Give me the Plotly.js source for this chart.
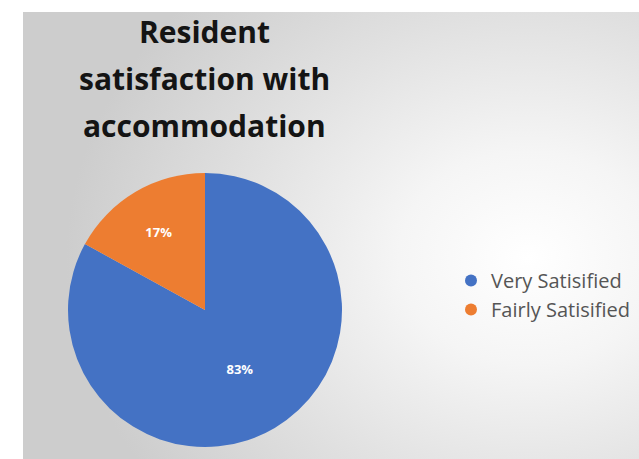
<!DOCTYPE html>
<html>
<head>
<meta charset="utf-8">
<script src="https://cdn.plot.ly/plotly-3.0.1.min.js"></script>
<style>
  html, body { margin: 0; padding: 0; background: #ffffff; width: 639px; height: 459px; overflow: hidden; }
  #bg { position: absolute; left: 23px; top: 12px; width: 616px; height: 447px;
        background: radial-gradient(ellipse 75% 85% at 82% 55%, #ffffff 0%, #f5f5f5 28%, #e0e0e0 65%, #cdcdcd 100%); }
  #chart { position: absolute; left: 0; top: 0; width: 639px; height: 459px; }
</style>
</head>
<body>
<div id="bg"></div>
<div id="chart"></div>
<script>
const categories = ["Very Satisified", "Fairly Satisified"];
const values = [83, 17];
const colors = ["#4472C4", "#ED7D31"];
const titleLines = ["Resident", "satisfaction with", "accommodation"];

const W = 639, H = 459;

const pie = {
  type: "pie",
  labels: categories,
  values: values,
  sort: false,
  direction: "clockwise",
  rotation: 0,
  marker: { colors: colors, line: { width: 0 } },
  texttemplate: "<b>%{percent:.0%}</b>",
  textposition: "inside",
  insidetextorientation: "horizontal",
  textfont: { family: "'Open Sans', sans-serif", size: 13, color: "#ffffff" },
  showlegend: false,
  hoverinfo: "label+percent",
  domain: { x: [68 / W, 342 / W], y: [1 - 447 / H, 1 - 173 / H] }
};

const legendTraces = categories.map((c, i) => ({
  type: "scatter",
  mode: "markers",
  x: [null], y: [null],
  name: c,
  marker: { color: colors[i], size: 12, symbol: "circle" },
  showlegend: true,
  hoverinfo: "skip"
}));

const titleYs = [31, 78, 125];
const annotations = titleLines.map((t, i) => ({
  text: "<b>" + t + "</b>",
  xref: "paper", yref: "paper",
  x: 204 / W, y: 1 - titleYs[i] / H,
  xanchor: "center", yanchor: "middle",
  showarrow: false,
  font: { family: "'Open Sans', sans-serif", size: 30, color: "#141414" }
}));

const layout = {
  width: W, height: H,
  margin: { l: 0, r: 0, t: 0, b: 0 },
  paper_bgcolor: "rgba(0,0,0,0)",
  plot_bgcolor: "rgba(0,0,0,0)",
  xaxis: { visible: false }, yaxis: { visible: false },
  showlegend: true,
  legend: {
    x: 451 / W, xanchor: "left",
    y: 1 - 295 / H, yanchor: "middle",
    bgcolor: "rgba(0,0,0,0)",
    font: { family: "'Open Sans', sans-serif", size: 20, color: "#555555" },
    itemclick: false, itemdoubleclick: false
  },
  annotations: annotations
};

Plotly.newPlot("chart", [pie].concat(legendTraces), layout, { displayModeBar: false, staticPlot: true });
</script>
</body>
</html>
